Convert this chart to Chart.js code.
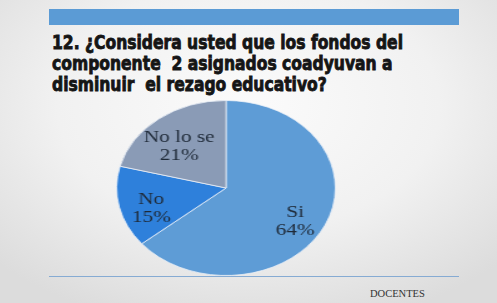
<!DOCTYPE html>
<html><head><meta charset="utf-8">
<script src="https://cdn.jsdelivr.net/npm/chart.js@4"></script>
<style>
html,body{margin:0;padding:0;}
body{width:497px;height:303px;overflow:hidden;position:relative;
 background:radial-gradient(ellipse 70% 75% at 50% 35%, #fbfbfb 0%, #f1f1f1 55%, #dcdcdc 100%);}
#bar{position:absolute;left:49px;top:9px;width:410px;height:16px;background:#5b9bd5;}
#title{position:absolute;left:52px;top:32px;font-family:"DejaVu Sans Condensed","DejaVu Sans",sans-serif;font-stretch:condensed;font-weight:bold;font-size:19px;line-height:21px;color:#151515;white-space:pre;-webkit-text-stroke:0.8px #151515;transform-origin:0 0;}
#wrap{position:absolute;left:138px;top:100px;width:176px;height:176px;transform:scaleX(1.25);transform-origin:50% 50%;}
#line{position:absolute;left:49px;top:276px;width:410px;height:1px;background:#86abd3;}
#foot{position:absolute;left:370px;top:288px;font-family:"Liberation Serif","Times New Roman",serif;font-size:10.5px;color:#333;}
</style></head>
<body>
<div id="bar"></div>
<div id="title"><span id="t1">12. ¿Considera usted que los fondos del</span>
componente  2 asignados coadyuvan a
disminuir  el rezago educativo?</div>
<div id="wrap"><canvas id="c"></canvas></div>
<div id="line"></div>
<div id="foot">DOCENTES</div>
<script>
const categories = ['Si', 'No', 'No lo se'];
const percentages = [64, 15, 21];
const sliceColors = ['#5e9cd6', '#2e80db', '#8a9bb6'];

// fit title width to the reference
const t = document.getElementById('title');
const t1 = document.getElementById('t1');
const w = t1.getBoundingClientRect().width;
t.style.transform = 'scaleX(' + (351 / w) + ')';

const labelPlugin = {
  id: 'sliceLabels',
  afterDatasetsDraw(chart) {
    const ctx = chart.ctx;
    const meta = chart.getDatasetMeta(0);
    ctx.save();
    ctx.font = '17px "Liberation Serif", "Times New Roman", serif';
    ctx.fillStyle = '#1f2a38';
    ctx.textAlign = 'center';
    ctx.textBaseline = 'middle';
    meta.data.forEach((arc, i) => {
      const p = arc.getProps(['x', 'y', 'startAngle', 'endAngle', 'outerRadius'], true);
      const mid = (p.startAngle + p.endAngle) / 2;
      const r = p.outerRadius * 0.7;
      const x = p.x + Math.cos(mid) * r;
      const y = p.y + Math.sin(mid) * r + 7;
      ctx.fillText(chart.data.labels[i], x, y - 9);
      ctx.fillText(chart.data.datasets[0].data[i] + '%', x, y + 9);
    });
    ctx.restore();
  }
};

new Chart(document.getElementById('c'), {
  type: 'pie',
  data: {
    labels: categories,
    datasets: [{
      data: percentages,
      backgroundColor: sliceColors,
      borderColor: 'rgba(235,240,247,0.8)',
      borderWidth: 1
    }]
  },
  options: {
    responsive: true,
    maintainAspectRatio: false,
    animation: false,
    layout: { padding: 0 },
    plugins: { legend: { display: false }, tooltip: { enabled: false }, title: { display: false } }
  },
  plugins: [labelPlugin]
});
</script>
</body></html>
